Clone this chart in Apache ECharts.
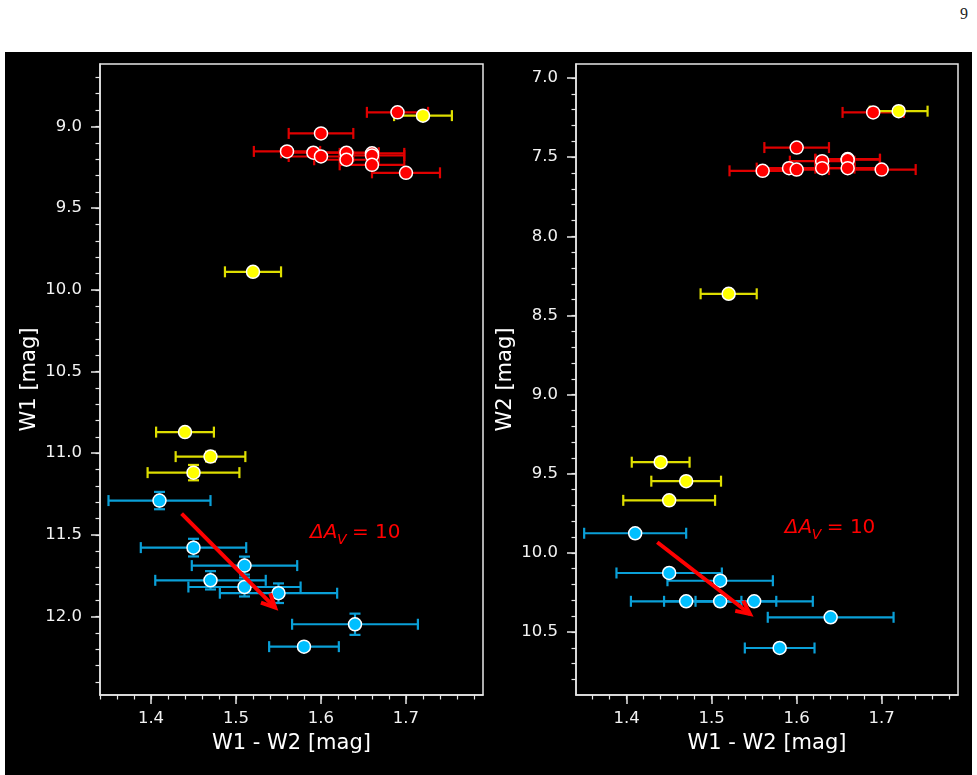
<!DOCTYPE html>
<html>
<head>
<meta charset="utf-8">
<script src="https://cdn.jsdelivr.net/npm/echarts@6/dist/echarts.min.js"></script>
<style>
  html, body { margin: 0; padding: 0; background: #ffffff; }
  #panel { position: absolute; left: 5px; top: 52px; width: 967px; height: 723px; background: #000000; }
  #page { position: absolute; left: 960px; top: 5px; font: 16px 'Liberation Serif', serif; color: #222; }
  #chart { position: absolute; left: 0; top: 0; width: 977px; height: 775px; }
</style>
</head>
<body>
<div id="panel"></div>
<div id="page">9</div>
<div id="chart"></div>
<script>
// W1 - W2 colour, W1, W2 and their errors, one set per group
var redColor = [1.690, 1.600, 1.560, 1.591, 1.600, 1.630, 1.630, 1.660, 1.660, 1.660, 1.700]
var redW1 = [8.914, 9.043, 9.153, 9.161, 9.184, 9.161, 9.204, 9.165, 9.178, 9.235, 9.284]
var redW2 = [7.217, 7.439, 7.586, 7.569, 7.578, 7.525, 7.569, 7.512, 7.516, 7.569, 7.578]
var redColorErr = [0.036, 0.038, 0.039, 0.038, 0.038, 0.038, 0.038, 0.038, 0.038, 0.038, 0.040]
var redW1Err = [0.01, 0.01, 0.01, 0.01, 0.01, 0.01, 0.01, 0.01, 0.01, 0.01, 0.01]
var redW2Err = [0.01, 0.01, 0.01, 0.01, 0.01, 0.01, 0.01, 0.01, 0.01, 0.01, 0.01]

var yellowColor = [1.720, 1.520, 1.440, 1.470, 1.450]
var yellowW1 = [8.934, 9.890, 10.871, 11.021, 11.119]
var yellowW2 = [7.209, 8.363, 9.427, 9.547, 9.668]
var yellowColorErr = [0.034, 0.033, 0.034, 0.041, 0.054]
var yellowW1Err = [0.01, 0.015, 0.015, 0.03, 0.047]
var yellowW2Err = [0.01, 0.01, 0.01, 0.01, 0.01]

var blueColor = [1.410, 1.450, 1.510, 1.470, 1.510, 1.550, 1.640, 1.580]
var blueW1 = [11.290, 11.578, 11.688, 11.778, 11.819, 11.857, 12.047, 12.184]
var blueW2 = [9.876, 10.127, 10.176, 10.306, 10.306, 10.306, 10.407, 10.601]
var blueColorErr = [0.060, 0.062, 0.062, 0.065, 0.066, 0.069, 0.074, 0.041]
var blueW1Err = [0.053, 0.054, 0.055, 0.056, 0.058, 0.060, 0.065, 0.015]
var blueW2Err = [0.02, 0.02, 0.02, 0.02, 0.02, 0.02, 0.02, 0.02]

// extinction vector, [x0, y0, x1, y1]
var arrowW1 = [1.436, 11.370, 1.546, 11.945]
var arrowW2 = [1.436, 9.933, 1.545, 10.386]
var labelW1 = [1.587, 11.488]
var labelW2 = [1.586, 9.843]

// tick labels
var colorTicks = [1.4, 1.5, 1.6, 1.7]
var w1Ticks = [9.0, 9.5, 10.0, 10.5, 11.0, 11.5, 12.0]
var w2Ticks = [7.0, 7.5, 8.0, 8.5, 9.0, 9.5, 10.0, 10.5]

function steps (from, to, step) {
  var out = []
  var n = Math.round((to - from) / step)
  for (var i = 0; i <= n; i++) out.push(Math.round((from + i * step) * 1000) / 1000)
  return out
}
var colorMinor = steps(1.34, 1.78, 0.02)
var w1Minor = steps(8.7, 12.4, 0.1)
var w2Minor = steps(7.0, 10.8, 0.1)

var frame = '#e6e6e6'
var font = 'DejaVu Sans'

function zip (xs, ys, xe, ye) {
  return xs.map(function (x, i) { return [x, ys[i], xe[i], ye[i]] })
}

function majorAxis (gridIndex, min, max, ticks, inverse, name, isY) {
  return {
    type: 'value',
    gridIndex: gridIndex,
    min: min,
    max: max,
    inverse: inverse,
    position: isY ? 'left' : 'bottom',
    name: name,
    nameLocation: 'middle',
    nameGap: isY ? 60 : 38,
    nameTextStyle: { color: '#ffffff', fontFamily: font, fontSize: 21 },
    axisLine: { show: true, lineStyle: { color: frame, width: 1.5 } },
    axisTick: { show: true, customValues: ticks, length: 9, lineStyle: { color: frame, width: 1.5 } },
    axisLabel: {
      customValues: ticks,
      color: '#f2f2f2',
      fontFamily: font,
      fontSize: 16.5,
      margin: isY ? 18 : 15,
      formatter: function (v) { return v.toFixed(1) }
    },
    splitLine: { show: false }
  }
}

function minorAxis (gridIndex, min, max, ticks, inverse, isY) {
  return {
    type: 'value',
    gridIndex: gridIndex,
    min: min,
    max: max,
    inverse: inverse,
    position: isY ? 'left' : 'bottom',
    axisLine: { show: false },
    axisTick: { show: true, customValues: ticks, length: 4.5, lineStyle: { color: frame, width: 1.2 } },
    axisLabel: { show: false },
    splitLine: { show: false }
  }
}

function errorBars (data, color, xAxisIndex, yAxisIndex) {
  return {
    type: 'custom',
    xAxisIndex: xAxisIndex,
    yAxisIndex: yAxisIndex,
    z: 2,
    silent: true,
    data: data,
    encode: { x: 0, y: 1 },
    renderItem: function (params, api) {
      var x = api.value(0)
      var y = api.value(1)
      var ex = api.value(2)
      var ey = api.value(3)
      var l = api.coord([x - ex, y])
      var r = api.coord([x + ex, y])
      var t = api.coord([x, y - ey])
      var b = api.coord([x, y + ey])
      var c = 5.5
      var style = { stroke: color, lineWidth: 2.2 }
      var seg = function (x1, y1, x2, y2) {
        return { type: 'line', shape: { x1: x1, y1: y1, x2: x2, y2: y2 }, style: style }
      }
      return {
        type: 'group',
        children: [
          seg(l[0], l[1], r[0], r[1]),
          seg(l[0], l[1] - c, l[0], l[1] + c),
          seg(r[0], r[1] - c, r[0], r[1] + c),
          seg(t[0], t[1], b[0], b[1]),
          seg(t[0] - c, t[1], t[0] + c, t[1]),
          seg(b[0] - c, b[1], b[0] + c, b[1])
        ]
      }
    }
  }
}

function markers (data, color, xAxisIndex, yAxisIndex) {
  return {
    type: 'scatter',
    xAxisIndex: xAxisIndex,
    yAxisIndex: yAxisIndex,
    z: 3,
    symbolSize: 13,
    silent: true,
    data: data,
    itemStyle: { color: color, opacity: 1, borderColor: '#ffffff', borderWidth: 1.5 }
  }
}

function arrow (vec, xAxisIndex, yAxisIndex) {
  return {
    type: 'custom',
    xAxisIndex: xAxisIndex,
    yAxisIndex: yAxisIndex,
    z: 4,
    silent: true,
    data: [vec],
    encode: { x: [0, 2], y: [1, 3] },
    renderItem: function (params, api) {
      var p0 = api.coord([api.value(0), api.value(1)])
      var p1 = api.coord([api.value(2), api.value(3)])
      var ang = Math.atan2(p0[1] - p1[1], p0[0] - p1[0])
      var len = 15
      var spread = 0.45
      var style = { stroke: '#ff0000', lineWidth: 4, lineCap: 'butt' }
      return {
        type: 'group',
        children: [
          { type: 'line', shape: { x1: p0[0], y1: p0[1], x2: p1[0], y2: p1[1] }, style: style },
          {
            type: 'polyline',
            shape: {
              points: [
                [p1[0] + len * Math.cos(ang + spread), p1[1] + len * Math.sin(ang + spread)],
                [p1[0], p1[1]],
                [p1[0] + len * Math.cos(ang - spread), p1[1] + len * Math.sin(ang - spread)]
              ]
            },
            style: { stroke: '#ff0000', lineWidth: 4, fill: null, lineJoin: 'miter' }
          }
        ]
      }
    }
  }
}

function label (pos, xAxisIndex, yAxisIndex) {
  return {
    type: 'custom',
    xAxisIndex: xAxisIndex,
    yAxisIndex: yAxisIndex,
    z: 4,
    silent: true,
    data: [pos],
    encode: { x: 0, y: 1 },
    renderItem: function (params, api) {
      var p = api.coord([api.value(0), api.value(1)])
      var txt = function (text, dx, dy, size, italic) {
        return {
          type: 'text',
          x: p[0] + dx,
          y: p[1] + dy,
          style: {
            text: text,
            fill: '#ff0000',
            font: (italic ? 'italic ' : '') + size + 'px "DejaVu Sans"',
            textAlign: 'left',
            textVerticalAlign: 'middle'
          }
        }
      }
      return {
        type: 'group',
        children: [
          txt('ΔA', 0, 0, 20, true),
          txt('V', 27, 7, 14, true),
          txt('= 10', 42, 0, 20, false)
        ]
      }
    }
  }
}

var chart = echarts.init(document.getElementById('chart'), null, { renderer: 'canvas' })

var gridStyle = { show: true, borderColor: frame, borderWidth: 1.5, backgroundColor: 'transparent' }

chart.setOption({
  backgroundColor: 'transparent',
  animation: false,
  grid: [
    Object.assign({ left: 100, top: 64, width: 383, height: 631 }, gridStyle),
    Object.assign({ left: 576, top: 64, width: 382, height: 631 }, gridStyle)
  ],
  xAxis: [
    majorAxis(0, 1.34, 1.7906, colorTicks, false, 'W1 - W2 [mag]', false),
    minorAxis(0, 1.34, 1.7906, colorMinor, false, false),
    majorAxis(1, 1.3404, 1.7898, colorTicks, false, 'W1 - W2 [mag]', false),
    minorAxis(1, 1.3404, 1.7898, colorMinor, false, false)
  ],
  yAxis: [
    majorAxis(0, 8.618, 12.48, w1Ticks, true, 'W1 [mag]', true),
    minorAxis(0, 8.618, 12.48, w1Minor, true, true),
    majorAxis(1, 6.911, 10.898, w2Ticks, true, 'W2 [mag]', true),
    minorAxis(1, 6.911, 10.898, w2Minor, true, true)
  ],
  series: [
    // left panel: W1
    errorBars(zip(redColor, redW1, redColorErr, redW1Err), '#e00000', 0, 0),
    errorBars(zip(yellowColor, yellowW1, yellowColorErr, yellowW1Err), '#dede00', 0, 0),
    errorBars(zip(blueColor, blueW1, blueColorErr, blueW1Err), '#0aa0d8', 0, 0),
    markers(zip(redColor, redW1, redColorErr, redW1Err), '#ff0000', 0, 0),
    markers(zip(yellowColor, yellowW1, yellowColorErr, yellowW1Err), '#ffff00', 0, 0),
    markers(zip(blueColor, blueW1, blueColorErr, blueW1Err), '#00bfff', 0, 0),
    arrow(arrowW1, 0, 0),
    label(labelW1, 0, 0),
    // right panel: W2
    errorBars(zip(redColor, redW2, redColorErr, redW2Err), '#e00000', 2, 2),
    errorBars(zip(yellowColor, yellowW2, yellowColorErr, yellowW2Err), '#dede00', 2, 2),
    errorBars(zip(blueColor, blueW2, blueColorErr, blueW2Err), '#0aa0d8', 2, 2),
    markers(zip(redColor, redW2, redColorErr, redW2Err), '#ff0000', 2, 2),
    markers(zip(yellowColor, yellowW2, yellowColorErr, yellowW2Err), '#ffff00', 2, 2),
    markers(zip(blueColor, blueW2, blueColorErr, blueW2Err), '#00bfff', 2, 2),
    arrow(arrowW2, 2, 2),
    label(labelW2, 2, 2)
  ]
})
</script>
</body>
</html>
